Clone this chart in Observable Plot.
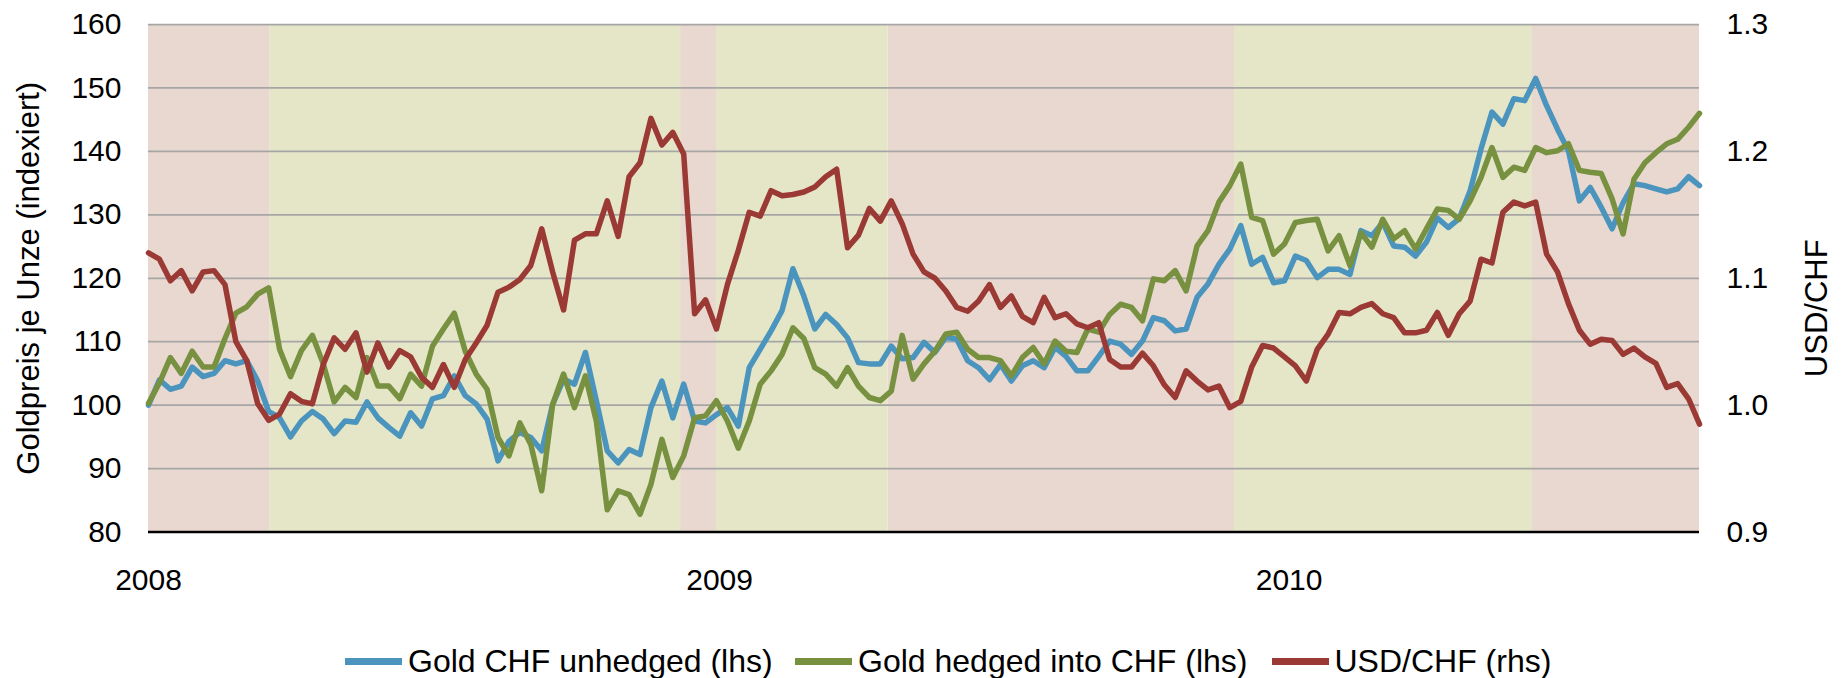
<!DOCTYPE html>
<html>
<head>
<meta charset="utf-8">
<script src="https://cdn.jsdelivr.net/npm/d3@7"></script>
<script src="https://cdn.jsdelivr.net/npm/@observablehq/plot@0.6"></script>
<style>
  html, body { margin: 0; padding: 0; background: #fff; overflow: hidden; }
  #legend { position: relative; width: 1841px; height: 42px; font-family: "Liberation Sans", Arial, sans-serif; font-size: 32px; color: #000; }
  .item { position: absolute; top: 0; height: 42px; white-space: nowrap; }
  .sw { position: absolute; top: 22px; left: 0; width: 57px; height: 7px; }
  .lbl { position: absolute; top: 9px; left: 63px; line-height: 32px; }
</style>
</head>
<body>
<div id="chart"></div>
<div id="legend"></div>
<script>
// ---- data (weekly readings) ----
const dates = [
"2008-01-01","2008-01-08","2008-01-15","2008-01-22","2008-01-29","2008-02-05","2008-02-12","2008-02-19","2008-02-26","2008-03-04",
"2008-03-11","2008-03-18","2008-03-25","2008-04-01","2008-04-08","2008-04-15","2008-04-22","2008-04-29","2008-05-06","2008-05-13",
"2008-05-20","2008-05-27","2008-06-03","2008-06-10","2008-06-17","2008-06-24","2008-07-01","2008-07-08","2008-07-15","2008-07-22",
"2008-07-29","2008-08-05","2008-08-12","2008-08-19","2008-08-26","2008-09-02","2008-09-09","2008-09-16","2008-09-23","2008-09-30",
"2008-10-07","2008-10-14","2008-10-21","2008-10-28","2008-11-04","2008-11-11","2008-11-18","2008-11-25","2008-12-02","2008-12-09",
"2008-12-16","2008-12-23","2008-12-30","2009-01-06","2009-01-13","2009-01-20","2009-01-27","2009-02-03","2009-02-10","2009-02-17",
"2009-02-24","2009-03-03","2009-03-10","2009-03-17","2009-03-24","2009-03-31","2009-04-07","2009-04-14","2009-04-21","2009-04-28",
"2009-05-05","2009-05-12","2009-05-19","2009-05-26","2009-06-02","2009-06-09","2009-06-16","2009-06-23","2009-06-30","2009-07-07",
"2009-07-14","2009-07-21","2009-07-28","2009-08-04","2009-08-11","2009-08-18","2009-08-25","2009-09-01","2009-09-08","2009-09-15",
"2009-09-22","2009-09-29","2009-10-06","2009-10-13","2009-10-20","2009-10-27","2009-11-03","2009-11-10","2009-11-17","2009-11-24",
"2009-12-01","2009-12-08","2009-12-15","2009-12-22","2009-12-29","2010-01-05","2010-01-12","2010-01-19","2010-01-26","2010-02-02",
"2010-02-09","2010-02-16","2010-02-23","2010-03-02","2010-03-09","2010-03-16","2010-03-23","2010-03-30","2010-04-06","2010-04-13",
"2010-04-20","2010-04-27","2010-05-04","2010-05-11","2010-05-18","2010-05-25","2010-06-01","2010-06-08","2010-06-15","2010-06-22",
"2010-06-29","2010-07-06","2010-07-13","2010-07-20","2010-07-27","2010-08-03","2010-08-10","2010-08-17","2010-08-24","2010-08-31",
"2010-09-07","2010-09-14","2010-09-21"
];
const goldUnhedged = [
100.0,104.0,102.5,103.0,106.0,104.5,105.0,107.0,106.5,107.0,
103.8,99.0,98.0,95.0,97.5,99.0,97.8,95.5,97.5,97.3,
100.5,98.0,96.5,95.1,98.8,96.7,101.0,101.5,104.6,101.5,
100.2,97.8,91.2,94.3,95.7,94.9,92.8,100.1,104.1,103.3,
108.3,100.7,92.8,90.9,93.0,92.2,99.6,103.8,98.0,103.3,
97.5,97.2,98.5,99.6,96.7,105.9,108.8,111.7,114.9,121.5,
117.2,112.0,114.3,112.7,110.6,106.7,106.5,106.5,109.3,107.3,
107.5,109.9,108.3,110.7,110.4,107.0,105.9,104.0,106.4,103.8,
106.2,107.0,105.9,109.1,107.7,105.4,105.4,107.7,110.1,109.6,
108.0,110.1,113.8,113.3,111.7,112.0,117.0,119.1,122.2,124.6,
128.3,122.2,123.3,119.3,119.6,123.5,122.8,120.1,121.4,121.4,
120.6,127.5,126.7,128.8,125.1,124.9,123.5,125.7,129.5,128.0,
129.4,133.8,140.4,146.2,144.3,148.3,148.0,151.5,147.2,143.5,
140.1,132.2,134.3,131.2,127.8,131.9,134.9,134.6,134.1,133.6,
134.1,136.0,134.6
];
const goldHedged = [
100.3,103.5,107.5,105.0,108.5,106.0,106.0,110.5,114.5,115.5,
117.5,118.5,108.8,104.5,108.6,111.0,106.5,100.5,102.8,101.2,
107.5,103.0,103.0,101.0,104.9,103.0,109.3,112.0,114.5,108.5,
104.9,102.5,94.9,92.0,97.2,93.8,86.5,100.1,104.9,99.6,
104.6,97.5,83.5,86.5,85.9,82.8,87.5,94.6,88.6,92.0,
98.0,98.3,100.7,97.5,93.2,97.5,103.3,105.4,108.0,112.2,
110.5,105.9,104.9,103.0,105.9,103.0,101.2,100.7,102.2,111.0,
104.1,106.5,108.5,111.2,111.5,108.8,107.5,107.5,107.0,104.6,
107.5,109.1,106.5,110.1,108.5,108.3,112.0,111.5,114.3,115.9,
115.4,113.3,119.9,119.6,121.2,118.0,125.1,127.5,132.0,134.6,
138.0,129.6,129.1,123.8,125.4,128.8,129.1,129.3,124.3,126.7,
122.0,127.2,124.9,129.3,126.2,127.5,124.6,127.8,130.9,130.7,
129.3,132.2,135.9,140.6,135.9,137.5,137.0,140.6,139.8,140.1,
141.2,137.0,136.7,136.5,132.5,127.0,135.6,138.2,139.8,141.2,
141.9,143.8,146.0
];
const usdChf = [
1.120,1.115,1.098,1.106,1.090,1.105,1.106,1.095,1.050,1.035,
1.001,0.988,0.993,1.009,1.003,1.001,1.032,1.053,1.044,1.057,
1.026,1.049,1.030,1.043,1.038,1.022,1.014,1.032,1.014,1.036,
1.049,1.063,1.089,1.093,1.099,1.110,1.139,1.105,1.075,1.130,
1.135,1.135,1.161,1.133,1.180,1.191,1.226,1.205,1.215,1.198,
1.072,1.083,1.060,1.095,1.122,1.152,1.149,1.169,1.165,1.166,
1.168,1.172,1.180,1.186,1.124,1.134,1.155,1.145,1.161,1.143,
1.119,1.105,1.100,1.090,1.077,1.074,1.082,1.095,1.077,1.086,
1.070,1.065,1.085,1.069,1.072,1.064,1.061,1.065,1.036,1.030,
1.030,1.041,1.031,1.016,1.006,1.027,1.019,1.012,1.015,0.998,
1.003,1.030,1.047,1.045,1.038,1.031,1.019,1.044,1.056,1.073,
1.072,1.077,1.080,1.072,1.069,1.057,1.057,1.059,1.073,1.055,
1.072,1.082,1.115,1.112,1.152,1.160,1.157,1.160,1.119,1.105,
1.080,1.059,1.048,1.052,1.051,1.040,1.045,1.038,1.033,1.014,
1.017,1.005,0.985
];
// shaded periods
const bandStart = ["2008-01-01","2008-03-19","2008-12-07","2008-12-30","2009-04-19","2009-11-27","2010-06-06"];
const bandEnd   = ["2008-03-19","2008-12-07","2008-12-30","2009-04-19","2009-11-27","2010-06-06","2010-09-21"];
const bandKind  = ["red","green","red","green","red","green","red"];
// axes
const leftTicks = [80, 90, 100, 110, 120, 130, 140, 150, 160];
const rightTicks = [0.9, 1.0, 1.1, 1.2, 1.3];
const yearTicks = ["2008-01-01", "2009-01-01", "2010-01-01"];
const seriesNames = ["Gold CHF unhedged (lhs)", "Gold hedged into CHF (lhs)", "USD/CHF (rhs)"];
const seriesColors = ["#4a94bd", "#779140", "#9b3a35"];
const bandColors = {red: "#e9d8cf", green: "#e5e6c8"};

// ---- build ----
const parse = d3.utcParse("%Y-%m-%d");
const rows = dates.map((d, i) => ({date: parse(d), unhedged: goldUnhedged[i], hedged: goldHedged[i], usd: usdChf[i]}));
const bands = bandStart.map((s, i) => ({start: parse(s), end: parse(bandEnd[i]), kind: bandKind[i]}));
const toLeft = v => (v - 0.5) * 200;   // right axis (0.9–1.3) onto left axis (80–160)
const FONT = "'Liberation Sans', Arial, Helvetica, sans-serif";

const chart = Plot.plot({
  width: 1841,
  height: 636,
  marginLeft: 148,
  marginRight: 142,
  marginTop: 24,
  marginBottom: 104.5,
  x: {type: "utc", domain: [parse("2008-01-01"), parse("2010-09-21")]},
  y: {domain: [80, 160]},
  style: {fontFamily: FONT, fontSize: "30px", color: "#000", background: "#fff"},
  marks: [
    Plot.rect(bands.filter(b => b.kind === "red"), {x1: "start", x2: "end", fill: bandColors.red}),
    Plot.rect(bands.filter(b => b.kind === "green"), {x1: "start", x2: "end", fill: bandColors.green}),
    Plot.ruleY(leftTicks.filter(t => t > 80), {stroke: "#a6a6a6", strokeWidth: 1.75}),
    Plot.lineY(rows, {x: "date", y: "unhedged", stroke: seriesColors[0], strokeWidth: 5.5, strokeLinejoin: "round"}),
    Plot.lineY(rows, {x: "date", y: "hedged", stroke: seriesColors[1], strokeWidth: 5.5, strokeLinejoin: "round"}),
    Plot.lineY(rows, {x: "date", y: d => toLeft(d.usd), stroke: seriesColors[2], strokeWidth: 5.5, strokeLinejoin: "round"}),
    Plot.ruleY([80], {stroke: "#000", strokeWidth: 2.5}),
    Plot.axisY({ticks: leftTicks, tickSize: 0, tickPadding: 27, label: null, fontSize: 30}),
    Plot.axisY({anchor: "right", ticks: rightTicks.map(toLeft), tickFormat: v => (v / 200 + 0.5).toFixed(1),
                tickSize: 0, tickPadding: 27, label: null, fontSize: 30}),
    Plot.axisX({ticks: yearTicks.map(parse), tickFormat: d3.utcFormat("%Y"), tickSize: 0, tickPadding: 37, label: null, fontSize: 30}),
    Plot.text(["Goldpreis je Unze (indexiert)"], {text: d => d, frameAnchor: "left", textAnchor: "middle", rotate: -90,
                lineAnchor: "bottom", dx: -110, fontSize: 31, fill: "#000"}),
    Plot.text(["USD/CHF"], {text: d => d, frameAnchor: "right", textAnchor: "middle", rotate: -90,
                lineAnchor: "bottom", dx: 127, dy: 30, fontSize: 31, fill: "#000"})
  ]
});
document.getElementById("chart").appendChild(chart);

// ---- legend ----
const legendX = [345, 795, 1271.5];
const legend = document.getElementById("legend");
seriesNames.forEach((name, i) => {
  const item = document.createElement("div");
  item.className = "item";
  item.style.left = legendX[i] + "px";
  const sw = document.createElement("div");
  sw.className = "sw";
  sw.style.background = seriesColors[i];
  const lbl = document.createElement("div");
  lbl.className = "lbl";
  lbl.textContent = name;
  item.appendChild(sw);
  item.appendChild(lbl);
  legend.appendChild(item);
});
</script>
</body>
</html>
